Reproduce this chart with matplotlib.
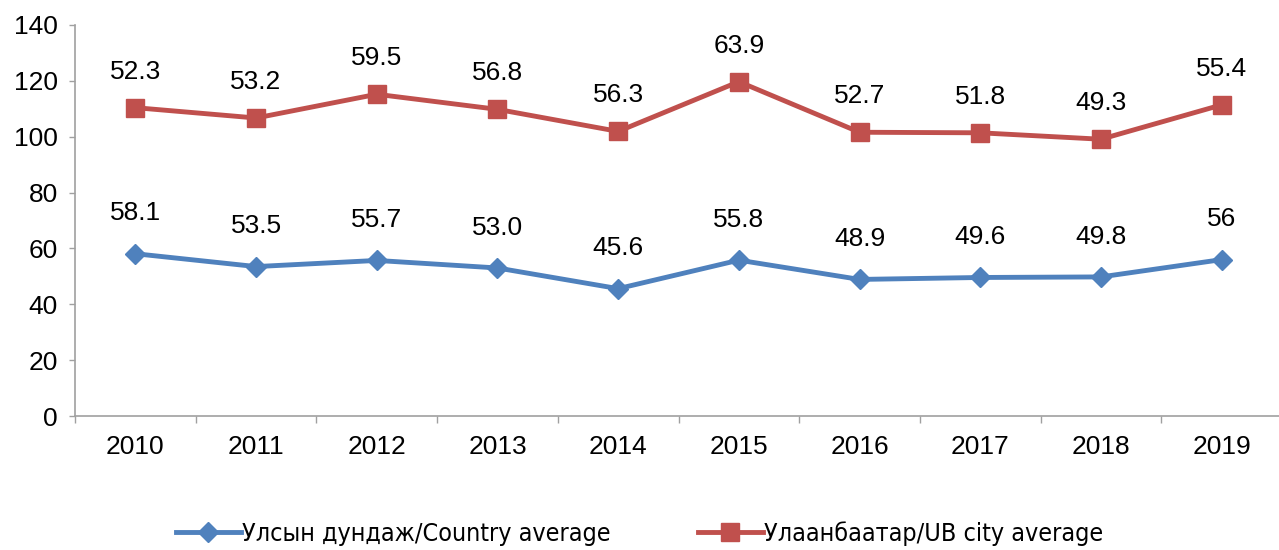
import numpy as np
import matplotlib.pyplot as plt
from matplotlib.ticker import FixedLocator

plt.rcParams['font.family'] = ['Liberation Sans', 'DejaVu Sans']

# жил бүрийн дундаж (улс / Улаанбаатар)
years = ['2010', '2011', '2012', '2013', '2014', '2015', '2016', '2017', '2018', '2019']
country_labels = ['58.1', '53.5', '55.7', '53.0', '45.6', '55.8', '48.9', '49.6', '49.8', '56']
ub_labels = ['52.3', '53.2', '59.5', '56.8', '56.3', '63.9', '52.7', '51.8', '49.3', '55.4']

country = np.array([float(s) for s in country_labels])
ub = np.array([float(s) for s in ub_labels])
# stacked line: UB series sits on top of the country series
ub_stacked = country + ub

blue = '#4F81BD'
red = '#C0504D'
axis_gray = '#A0A0A0'
fs = 19

fig = plt.figure(figsize=(12.79, 5.5), dpi=100)
ax = fig.add_axes([75 / 1279, (550 - 416) / 550, 1207 / 1279, (416 - 25) / 550])

x = np.arange(len(years))
ax.plot(x, country, color=blue, lw=3.5, marker='D', ms=10, mfc=blue, mec=blue,
        label='Улсын дундаж/Country average')
ax.plot(x, ub_stacked, color=red, lw=3.5, marker='s', ms=13, mfc=red, mec=red,
        label='Улаанбаатар/UB city average')

for xi, yv, txt in zip(x, country, country_labels):
    ax.annotate(txt, (xi, yv), xytext=(0, 29), textcoords='offset points',
                ha='center', va='center', fontsize=fs)
for xi, yv, txt in zip(x, ub_stacked, ub_labels):
    ax.annotate(txt, (xi, yv), xytext=(0, 26), textcoords='offset points',
                ha='center', va='center', fontsize=fs)

ax.set_xlim(-0.5, len(years) - 0.5)
ax.set_ylim(0, 140)
ax.set_yticks(np.arange(0, 141, 20))

# category labels at centres, tick marks at the boundaries
ax.xaxis.set_major_locator(FixedLocator(np.arange(-0.5, len(years), 1.0)))
ax.xaxis.set_minor_locator(FixedLocator(x))
ax.set_xticklabels([])
ax.set_xticklabels(years, minor=True)
ax.tick_params(axis='x', which='major', length=5, width=1, color=axis_gray, direction='out')
ax.tick_params(axis='x', which='minor', length=0, pad=14, labelsize=fs)
ax.tick_params(axis='y', length=4.5, width=1, color=axis_gray, pad=8, labelsize=fs)

for side in ['top', 'right']:
    ax.spines[side].set_visible(False)
for side in ['left', 'bottom']:
    ax.spines[side].set_color(axis_gray)
    ax.spines[side].set_linewidth(1.2)

fig.legend(loc='center', bbox_to_anchor=(0.5, 0.03), ncol=2, frameon=False,
           prop={'family': 'DejaVu Sans', 'stretch': 'condensed', 'size': 18},
           handlelength=2.6, handletextpad=0.05, columnspacing=3.5)

fig.savefig('out.png', dpi=100)
